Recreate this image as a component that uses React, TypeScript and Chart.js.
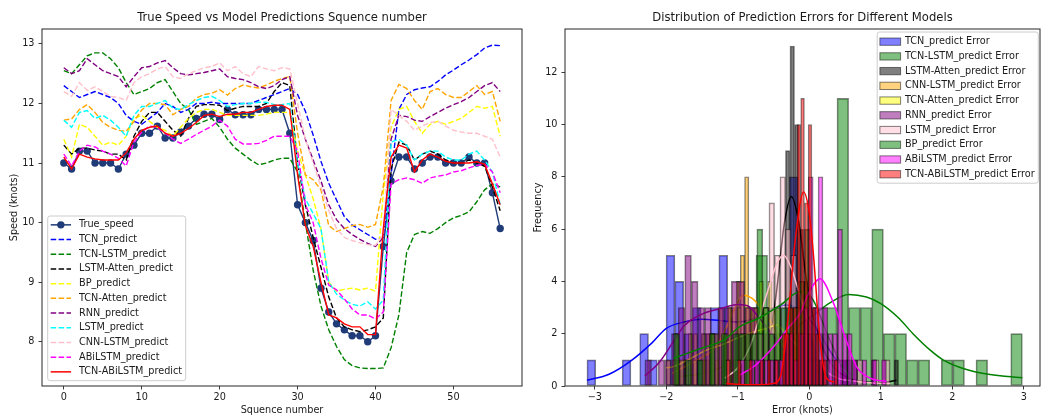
import React, { useEffect, useRef } from "react";
import { Chart, registerables } from "chart.js";

Chart.register(...registerables);

const FONT_FAMILY = "'DejaVu Sans', 'Liberation Sans', sans-serif";
const TEXT = "#1a1a1a";
const AXIS = "#262626";

// ---------------- Left panel: speed series ----------------
const sequenceNumbers = [0, 1, 2, 3, 4, 5, 6, 7, 8, 9, 10, 11, 12, 13, 14, 15, 16, 17, 18, 19, 20, 21, 22, 23, 24, 25, 26, 27, 28, 29, 30, 31, 32, 33, 34, 35, 36, 37, 38, 39, 40, 41, 42, 43, 44, 45, 46, 47, 48, 49, 50, 51, 52, 53, 54, 55, 56];
const sequenceTicks = [0, 10, 20, 30, 40, 50];
const speedTicks = [8, 9, 10, 11, 12, 13];

const trueSpeed = [11.0, 10.9, 11.2, 11.2, 11.0, 11.0, 11.0, 10.9, 11.15, 11.3, 11.5, 11.5, 11.62, 11.42, 11.42, 11.52, 11.62, 11.75, 11.82, 11.82, 11.73, 11.9, 11.81, 11.81, 11.81, 11.9, 11.9, 11.9, 11.9, 11.5, 10.3, 10.0, 9.7, 8.9, 8.5, 8.3, 8.2, 8.1, 8.1, 8.0, 8.1, 9.6, 10.7, 11.1, 11.1, 10.9, 11.0, 11.1, 11.1, 11.0, 11.0, 11.0, 11.1, 11.0, 11.0, 10.5, 9.9];
const tcnPredict = [12.3, 12.2, 12.1, 12.15, 12.2, 12.15, 12.1, 12.0, 11.8, 11.7, 11.65, 11.75, 11.85, 12.0, 11.95, 11.85, 11.9, 12.0, 12.0, 12.02, 12.0, 12.0, 12.0, 12.0, 12.0, 12.05, 12.1, 12.15, 12.2, 12.25, 12.15, 11.87, 11.47, 11.03, 10.66, 10.38, 10.1, 9.96, 9.88, 9.8, 9.72, 9.75, 10.8, 11.9, 12.15, 12.23, 12.26, 12.28, 12.37, 12.48, 12.56, 12.65, 12.73, 12.82, 12.93, 12.98, 12.97];
const tcnLstmPredict = [12.55, 12.5, 12.65, 12.8, 12.85, 12.85, 12.75, 12.6, 12.35, 12.15, 12.2, 12.25, 12.35, 12.4, 12.2, 12.0, 11.9, 11.65, 11.7, 11.75, 11.6, 11.4, 11.25, 11.15, 11.05, 10.97, 11.0, 11.05, 11.08, 11.08, 10.85, 10.0, 9.2, 8.6, 8.2, 7.92, 7.7, 7.6, 7.56, 7.55, 7.55, 7.56, 7.9, 8.45, 9.5, 9.8, 9.85, 9.82, 9.9, 10.0, 10.08, 10.12, 10.18, 10.35, 10.55, 10.65, 10.6];
const lstmAttenPredict = [11.3, 11.15, 11.25, 11.25, 11.22, 11.2, 11.15, 11.15, 11.05, 11.45, 11.7, 11.85, 11.85, 11.7, 11.55, 11.45, 11.75, 11.95, 11.98, 11.98, 11.97, 11.88, 11.92, 11.95, 11.95, 11.95, 12.0, 12.2, 12.35, 12.3, 11.0, 10.3, 9.75, 9.25, 8.75, 8.4, 8.25, 8.2, 8.17, 8.2, 8.25, 8.4, 10.9, 11.35, 11.3, 11.05, 11.15, 11.2, 11.15, 11.05, 11.0, 11.0, 11.05, 11.0, 10.95, 10.6, 10.2];
const bpPredict = [11.4, 11.1, 11.65, 11.6, 11.45, 11.3, 11.35, 11.3, 11.45, 11.75, 11.8, 11.7, 11.6, 11.55, 11.45, 11.6, 11.75, 11.85, 11.9, 11.9, 11.85, 11.8, 11.8, 11.8, 11.8, 11.8, 11.82, 11.85, 11.85, 11.85, 11.2, 10.8, 10.4, 9.9, 9.0, 8.85, 8.88, 8.9, 8.87, 8.9, 8.85, 10.5, 11.6, 11.9, 11.95, 11.7, 11.5, 11.65, 11.7, 11.65, 11.7, 11.75, 11.85, 11.95, 11.92, 11.95, 11.45];
const tcnAttenPredict = [11.72, 11.74, 11.9, 11.98, 11.85, 11.68, 11.6, 11.55, 11.53, 11.7, 11.89, 12.0, 12.0, 11.98, 11.81, 11.9, 11.95, 12.09, 12.15, 12.17, 12.23, 12.14, 12.25, 12.31, 12.28, 12.26, 12.31, 12.37, 12.42, 12.45, 11.5, 10.8, 10.72, 10.55, 9.95, 9.85, 9.9, 9.95, 9.97, 9.92, 9.97, 10.6, 12.05, 12.32, 12.25, 12.05, 11.9, 12.2, 12.25, 12.15, 12.1, 12.1, 12.2, 12.3, 12.15, 12.2, 11.7];
const rnnPredict = [12.6, 12.5, 12.55, 12.75, 12.65, 12.55, 12.5, 12.45, 12.28, 12.45, 12.6, 12.62, 12.68, 12.72, 12.6, 12.5, 12.48, 12.5, 12.52, 12.55, 12.58, 12.45, 12.42, 12.4, 12.35, 12.28, 12.25, 12.3, 12.4, 12.45, 11.8, 11.4, 11.05, 10.7, 10.3, 10.05, 9.9, 9.8, 9.72, 9.65, 9.6, 9.75, 11.4, 11.8, 11.78, 11.72, 11.7, 11.78, 11.85, 11.92, 11.98, 12.03, 12.1, 12.2, 12.3, 12.35, 12.2];
const lstmPredict = [11.72, 11.6, 11.85, 11.88, 11.75, 11.8, 11.72, 11.6, 11.45, 11.8, 11.95, 11.95, 12.0, 12.05, 11.92, 11.9, 11.98, 12.05, 12.1, 12.12, 12.05, 11.95, 11.98, 12.0, 12.0, 12.02, 12.02, 11.98, 11.98, 12.0, 11.0, 10.4, 10.15, 9.9, 9.0, 8.8, 8.7, 8.63, 8.6, 8.67, 8.55, 8.7, 11.35, 11.4, 11.3, 11.05, 11.15, 11.2, 11.2, 11.1, 11.05, 11.05, 11.15, 11.2, 11.05, 10.85, 10.3];
const cnnLstmPredict = [12.2, 12.12, 12.35, 12.22, 12.28, 12.2, 12.12, 12.1, 12.05, 12.35, 12.45, 12.5, 12.58, 12.62, 12.45, 12.42, 12.5, 12.55, 12.6, 12.62, 12.68, 12.55, 12.62, 12.5, 12.45, 12.62, 12.58, 12.55, 12.6, 12.58, 12.0, 11.4, 11.0, 10.6, 10.2, 9.9, 9.75, 9.7, 9.66, 9.63, 9.62, 9.8, 11.9, 11.8, 11.7, 11.55, 11.62, 11.68, 11.7, 11.62, 11.55, 11.52, 11.5, 11.5, 11.45, 11.4, 11.1];
const abilstmPredict = [11.15, 10.95, 11.2, 11.3, 11.27, 11.2, 11.15, 11.08, 10.95, 11.35, 11.52, 11.62, 11.6, 11.5, 11.4, 11.33, 11.4, 11.48, 11.55, 11.62, 11.72, 11.62, 11.4, 11.32, 11.32, 11.33, 11.38, 11.45, 11.45, 11.45, 11.2, 10.3, 10.0, 9.4, 8.95, 8.87, 8.72, 8.55, 8.45, 8.45, 8.38, 8.5, 10.65, 10.72, 10.75, 10.72, 10.66, 10.75, 10.78, 10.8, 10.85, 10.87, 10.92, 10.96, 10.98, 10.85, 10.5];
const tcnAbilstmPredict = [11.1, 10.9, 11.15, 11.1, 11.07, 11.05, 11.05, 11.05, 11.17, 11.4, 11.55, 11.6, 11.62, 11.5, 11.45, 11.5, 11.58, 11.68, 11.8, 11.82, 11.78, 11.82, 11.82, 11.85, 11.85, 11.9, 11.95, 11.97, 11.97, 11.9, 10.8, 9.95, 9.6, 9.0, 8.45, 8.4, 8.3, 8.25, 8.25, 8.12, 8.12, 9.9, 11.1, 11.3, 11.25, 10.85, 11.05, 11.15, 11.1, 11.03, 11.0, 11.0, 11.0, 11.02, 10.98, 10.65, 10.3];

// ---------------- Right panel: error histograms (30 bins each) ----------------
const errorTicks = [-3, -2, -1, 0, 1, 2, 3];
const frequencyTicks = [0, 2, 4, 6, 8, 10, 12];

const tcnErrStart = -3.11;
const tcnErrWidth = 0.123;
const tcnErrCounts = [1, 0, 0, 0, 1, 0, 2, 1, 0, 5, 4, 2, 3, 2, 3, 5, 2, 2, 2, 2, 3, 2, 3, 8, 2, 1, 1, 0, 0, 1];
const tcnKdeX = [-3.11, -2.8, -2.5, -2.2, -2.0, -1.75, -1.5, -1.25, -1.0, -0.8, -0.55, -0.32, -0.1, 0.1, 0.3, 0.45, 0.58];
const tcnKdeY = [0.22, 0.45, 0.95, 1.65, 2.2, 2.45, 2.55, 2.5, 2.45, 2.55, 2.9, 3.1, 2.85, 2.2, 1.3, 0.75, 0.42];

const tcnLstmErrStart = -1.88;
const tcnLstmErrWidth = 0.162;
const tcnLstmErrCounts = [1, 0, 1, 0, 1, 1, 1, 5, 1, 2, 2, 2, 3, 3, 11, 3, 3, 6, 2, 2, 1, 1, 0, 1, 1, 0, 1, 0, 0, 2];
const tcnLstmKdeX = [-1.88, -1.48, -1.2, -0.97, -0.6, -0.32, 0.0, 0.3, 0.55, 0.8, 1.0, 1.25, 1.45, 1.7, 1.87, 2.1, 2.4, 2.7, 2.98];
const tcnLstmKdeY = [0.35, 0.48, 0.75, 1.1, 1.6, 2.0, 2.6, 3.2, 3.5, 3.4, 3.15, 2.6, 2.0, 1.35, 1.0, 0.72, 0.5, 0.38, 0.32];

const lstmAttenErrStart = -0.65;
const lstmAttenErrWidth = 0.0633;
const lstmAttenErrCounts = [1, 0, 1, 2, 2, 9, 13, 10, 6, 4, 2, 1, 1, 0, 0, 1, 0, 0, 1, 0, 1, 0, 0, 0, 1, 0, 0, 0, 0, 1];
const lstmAttenKdeX = [-0.64, -0.55, -0.45, -0.35, -0.25, -0.15, -0.04, 0.05, 0.15, 0.25, 0.38, 0.55, 0.8, 1.0, 1.22];
const lstmAttenKdeY = [0.93, 1.8, 3.8, 6.2, 7.25, 6.3, 4.05, 2.7, 1.76, 1.1, 0.61, 0.3, 0.15, 0.12, 0.22];

const cnnLstmErrStart = -1.92;
const cnnLstmErrWidth = 0.0597;
const cnnLstmErrCounts = [1, 1, 0, 1, 0, 2, 0, 1, 2, 2, 1, 3, 2, 3, 3, 4, 5, 8, 3, 3, 2, 2, 2, 1, 1, 1, 0, 1, 0, 1];
const cnnLstmKdeX = [-1.92, -1.7, -1.5, -1.3, -1.15, -1.0, -0.92, -0.8, -0.65, -0.5, -0.32, -0.22, -0.13];
const cnnLstmKdeY = [0.48, 0.8, 1.1, 1.5, 2.3, 3.2, 3.47, 3.35, 2.9, 2.27, 1.25, 0.7, 0.3];

const tcnAttenErrStart = -2.0;
const tcnAttenErrWidth = 0.0617;
const tcnAttenErrCounts = [1, 0, 2, 1, 0, 2, 1, 0, 2, 0, 2, 2, 0, 2, 3, 0, 3, 2, 3, 3, 3, 4, 3, 4, 3, 3, 2, 2, 1, 2];
const tcnAttenKdeX = [-2.0, -1.9, -1.7, -1.43, -1.2, -0.97, -0.8, -0.6, -0.46, -0.32, -0.18];
const tcnAttenKdeY = [0.7, 0.74, 1.0, 1.38, 1.6, 1.88, 2.05, 2.2, 2.33, 2.0, 1.57];

const rnnErrStart = -2.3;
const rnnErrWidth = 0.093;
const rnnErrCounts = [1, 0, 1, 1, 2, 3, 5, 4, 3, 3, 2, 3, 3, 4, 4, 3, 3, 2, 2, 1, 1, 1, 1, 0, 1, 0, 0, 0, 0, 1];
const rnnKdeX = [-2.3, -2.1, -1.9, -1.75, -1.5, -1.25, -1.0, -0.85, -0.7, -0.5, -0.32, -0.1, 0.15, 0.3, 0.49];
const rnnKdeY = [0.38, 0.9, 1.7, 2.3, 2.75, 2.95, 3.12, 3.05, 2.6, 1.9, 1.25, 0.6, 0.36, 0.3, 0.3];

const lstmErrStart = -1.18;
const lstmErrWidth = 0.077;
const lstmErrCounts = [1, 0, 1, 1, 1, 2, 2, 3, 7, 5, 8, 6, 5, 3, 2, 2, 1, 1, 1, 1, 1, 0, 0, 0, 1, 0, 0, 1, 0, 1];
const lstmKdeX = [-1.18, -1.0, -0.83, -0.7, -0.55, -0.45, -0.36, -0.25, -0.18, 0.01, 0.2, 0.4, 0.6, 0.85, 1.13];
const lstmKdeY = [0.3, 0.7, 1.5, 2.6, 3.9, 4.7, 5.0, 4.5, 3.9, 2.27, 0.74, 0.3, 0.2, 0.12, 0.1];

const bpErrStart = -1.9;
const bpErrWidth = 0.0833;
const bpErrCounts = [2, 0, 1, 0, 1, 0, 2, 0, 2, 0, 2, 2, 2, 2, 6, 3, 2, 3, 3, 3, 3, 4, 6, 3, 2, 2, 0, 0, 0, 1];
const bpKdeX = [-1.9, -1.5, -1.2, -0.97, -0.7, -0.4, -0.13, 0.05, 0.25, 0.45, 0.6];
const bpKdeY = [1.06, 1.45, 1.75, 2.27, 2.6, 3.1, 3.6, 3.3, 2.0, 0.8, 0.25];

const abilstmErrStart = -0.97;
const abilstmErrWidth = 0.0683;
const abilstmErrCounts = [1, 0, 1, 1, 1, 1, 1, 1, 1, 2, 2, 1, 2, 3, 8, 3, 8, 3, 2, 2, 6, 2, 2, 1, 0, 1, 0, 1, 0, 1];
const abilstmKdeX = [-0.97, -0.75, -0.5, -0.3, -0.13, 0.0, 0.15, 0.34, 0.5, 0.66, 0.85, 1.08];
const abilstmKdeY = [0.42, 0.8, 1.5, 2.2, 2.78, 3.6, 4.1, 3.16, 1.88, 0.74, 0.3, 0.17];

const tcnAbilstmErrStart = -1.16;
const tcnAbilstmErrWidth = 0.052;
const tcnAbilstmErrCounts = [1, 0, 0, 1, 0, 0, 1, 0, 0, 1, 0, 1, 0, 1, 0, 2, 2, 3, 3, 10, 11, 7, 10, 3, 2, 1, 1, 0, 0, 1];
const tcnAbilstmKdeX = [-1.16, -0.9, -0.7, -0.5, -0.4, -0.3, -0.2, -0.08, 0.0, 0.06, 0.15, 0.24, 0.35];
const tcnAbilstmKdeY = [0.1, 0.05, 0.05, 0.1, 0.4, 2.5, 5.5, 7.42, 6.6, 4.95, 1.76, 0.3, 0.15];

// ---------------- styling tables built from the arrays ----------------
const speedSeries = [
  { label: "True_speed", data: trueSpeed, color: "#1f3b78", dash: false, marker: true },
  { label: "TCN_predict", data: tcnPredict, color: "#0000ff", dash: true },
  { label: "TCN-LSTM_predict", data: tcnLstmPredict, color: "#008000", dash: true },
  { label: "LSTM-Atten_predict", data: lstmAttenPredict, color: "#000000", dash: true },
  { label: "BP_predict", data: bpPredict, color: "#ffff00", dash: true },
  { label: "TCN-Atten_predict", data: tcnAttenPredict, color: "#ffa500", dash: true },
  { label: "RNN_predict", data: rnnPredict, color: "#800080", dash: true },
  { label: "LSTM_predict", data: lstmPredict, color: "#00ffff", dash: true },
  { label: "CNN-LSTM_predict", data: cnnLstmPredict, color: "#ffc0cb", dash: true },
  { label: "ABiLSTM_predict", data: abilstmPredict, color: "#ff00ff", dash: true },
  { label: "TCN-ABiLSTM_predict", data: tcnAbilstmPredict, color: "#ff0000", dash: false },
];

const errorSeries = [
  { label: "TCN_predict Error", rgb: [0, 0, 255], start: tcnErrStart, width: tcnErrWidth, counts: tcnErrCounts, kx: tcnKdeX, ky: tcnKdeY },
  { label: "TCN-LSTM_predict Error", rgb: [0, 128, 0], start: tcnLstmErrStart, width: tcnLstmErrWidth, counts: tcnLstmErrCounts, kx: tcnLstmKdeX, ky: tcnLstmKdeY },
  { label: "LSTM-Atten_predict Error", rgb: [0, 0, 0], start: lstmAttenErrStart, width: lstmAttenErrWidth, counts: lstmAttenErrCounts, kx: lstmAttenKdeX, ky: lstmAttenKdeY },
  { label: "CNN-LSTM_predict Error", rgb: [255, 165, 0], start: cnnLstmErrStart, width: cnnLstmErrWidth, counts: cnnLstmErrCounts, kx: cnnLstmKdeX, ky: cnnLstmKdeY },
  { label: "TCN-Atten_predict Error", rgb: [255, 255, 0], start: tcnAttenErrStart, width: tcnAttenErrWidth, counts: tcnAttenErrCounts, kx: tcnAttenKdeX, ky: tcnAttenKdeY },
  { label: "RNN_predict Error", rgb: [128, 0, 128], start: rnnErrStart, width: rnnErrWidth, counts: rnnErrCounts, kx: rnnKdeX, ky: rnnKdeY },
  { label: "LSTM_predict Error", rgb: [255, 192, 203], start: lstmErrStart, width: lstmErrWidth, counts: lstmErrCounts, kx: lstmKdeX, ky: lstmKdeY },
  { label: "BP_predict Error", rgb: [0, 128, 0], start: bpErrStart, width: bpErrWidth, counts: bpErrCounts, kx: bpKdeX, ky: bpKdeY },
  { label: "ABiLSTM_predict Error", rgb: [255, 0, 255], start: abilstmErrStart, width: abilstmErrWidth, counts: abilstmErrCounts, kx: abilstmKdeX, ky: abilstmKdeY },
  { label: "TCN-ABiLSTM_predict Error", rgb: [255, 0, 0], start: tcnAbilstmErrStart, width: tcnAbilstmErrWidth, counts: tcnAbilstmErrCounts, kx: tcnAbilstmKdeX, ky: tcnAbilstmKdeY },
];

const rgba = (c: number[], a: number) => `rgba(${c[0]},${c[1]},${c[2]},${a})`;
const fmtTick = (v: any) => (Number(v) < 0 ? "\u2212" + Math.abs(Number(v)) : String(v));

// ---------------- plugins ----------------
const framePlugin = {
  id: "axesFrame",
  afterDatasetsDraw(chart: any) {
    const { ctx, chartArea: a } = chart;
    ctx.save();
    ctx.strokeStyle = AXIS;
    ctx.lineWidth = 1;
    ctx.strokeRect(a.left, a.top, a.right - a.left, a.bottom - a.top);
    ctx.restore();
  },
};

const boxLegendPlugin = {
  id: "boxLegend",
  afterDraw(chart: any, _args: any, o: any) {
    if (!o || !o.items) return;
    const { ctx, chartArea: a } = chart;
    ctx.save();
    ctx.font = `${o.fontSize}px ${FONT_FAMILY}`;
    let maxW = 0;
    for (const it of o.items) maxW = Math.max(maxW, ctx.measureText(it.label).width);
    const w = o.textX + maxW + o.padRight;
    const h = o.items.length * o.rowH + o.padTop + o.padBottom;
    const x0 = o.corner === "lowerLeft" ? a.left + o.offX : a.right - o.offX - w;
    const y0 = o.corner === "lowerLeft" ? a.bottom - o.offY - h : a.top + o.offY;
    ctx.beginPath();
    if (ctx.roundRect) ctx.roundRect(x0, y0, w, h, 2.5);
    else ctx.rect(x0, y0, w, h);
    ctx.fillStyle = "rgba(255,255,255,0.8)";
    ctx.fill();
    ctx.strokeStyle = "#cccccc";
    ctx.lineWidth = 1;
    ctx.stroke();
    o.items.forEach((it: any, i: number) => {
      const cy = y0 + o.padTop + o.rowH * (i + 0.5);
      const hx = x0 + o.handleX;
      if (it.patch) {
        ctx.fillStyle = it.fill;
        ctx.fillRect(hx, cy - o.patchH / 2, o.handleW, o.patchH);
        ctx.strokeStyle = it.edge;
        ctx.lineWidth = 1;
        ctx.strokeRect(hx, cy - o.patchH / 2, o.handleW, o.patchH);
      } else {
        ctx.beginPath();
        ctx.setLineDash(it.dash ? [5.5, 2.4] : []);
        ctx.strokeStyle = it.color;
        ctx.lineWidth = 1.5;
        ctx.moveTo(hx, cy);
        ctx.lineTo(hx + o.handleW, cy);
        ctx.stroke();
        ctx.setLineDash([]);
        if (it.marker) {
          ctx.beginPath();
          ctx.arc(hx + o.handleW / 2, cy, 3.7, 0, Math.PI * 2);
          ctx.fillStyle = it.color;
          ctx.fill();
        }
      }
      ctx.fillStyle = TEXT;
      ctx.textBaseline = "middle";
      ctx.textAlign = "left";
      ctx.fillText(it.label, x0 + o.textX, cy);
    });
    ctx.restore();
  },
};

const tickFont = { family: FONT_FAMILY, size: 9.7 };
const axisGrid = {
  display: true,
  drawOnChartArea: false,
  drawTicks: true,
  tickLength: 3.5,
  tickWidth: 0.9,
  tickColor: AXIS,
  offset: false,
};

function makeLeftConfig(): any {
  const n = speedSeries.length;
  return {
    type: "line",
    data: {
      labels: sequenceNumbers,
      datasets: speedSeries.map((s, i) => ({
        label: s.label,
        data: s.data,
        borderColor: s.color,
        backgroundColor: s.color,
        borderWidth: 1.4,
        borderDash: s.dash ? [5.5, 2.4] : [],
        pointRadius: s.marker ? 3.7 : 0,
        pointBorderWidth: 0,
        pointBackgroundColor: s.color,
        tension: 0,
        fill: false,
        order: n - i,
      })),
    },
    options: {
      animation: false,
      responsive: false,
      devicePixelRatio: 1,
      layout: { padding: { left: 0, right: 8, top: 0, bottom: 0 } },
      plugins: {
        legend: { display: false },
        tooltip: { enabled: false },
        title: {
          display: true,
          fullSize: false,
          text: "True Speed vs Model Predictions Squence number",
          color: TEXT,
          font: { family: FONT_FAMILY, size: 11.6, weight: "normal", lineHeight: 1.2 },
          padding: { top: 10.6, bottom: 4.48 },
        },
        boxLegend: {
          corner: "lowerLeft",
          offX: 5.7,
          offY: 5.3,
          fontSize: 9.7,
          rowH: 14.7,
          padTop: 1.5,
          padBottom: 1.5,
          handleX: 3,
          handleW: 20.3,
          textX: 31.3,
          padRight: 3.6,
          items: speedSeries.map((s) => ({ label: s.label, color: s.color, dash: s.dash, marker: !!s.marker })),
        },
      },
      scales: {
        x: {
          type: "linear",
          min: -2.8,
          max: 58.8,
          offset: false,
          afterBuildTicks: (s: any) => { s.ticks = sequenceTicks.map((v) => ({ value: v })); },
          afterFit: (s: any) => { s.height = 33; },
          grid: axisGrid,
          border: { display: false },
          ticks: { font: tickFont, color: TEXT, padding: 2, maxRotation: 0, callback: fmtTick },
          title: { display: true, text: "Squence number", color: TEXT, font: { family: FONT_FAMILY, size: 9.7, lineHeight: 1.2 }, padding: { top: 0, bottom: 3 } },
        },
        y: {
          type: "linear",
          min: 7.257,
          max: 13.25,
          afterBuildTicks: (s: any) => { s.ticks = speedTicks.map((v) => ({ value: v })); },
          afterFit: (s: any) => { s.width = 42; },
          grid: axisGrid,
          border: { display: false },
          ticks: { font: tickFont, color: TEXT, padding: 4, callback: fmtTick },
          title: { display: true, text: "Speed (knots)", color: TEXT, font: { family: FONT_FAMILY, size: 9.7, lineHeight: 1.2 }, padding: { top: 8.2, bottom: 0 } },
        },
      },
    },
    plugins: [framePlugin, boxLegendPlugin],
  };
}

const ERR_MIN = -3.417;
const ERR_MAX = 3.227;

function makeRightConfig(): any {
  const datasets: any[] = [];
  const total = errorSeries.length * 2;
  const scales: any = {
    x: {
      type: "linear",
      min: ERR_MIN,
      max: ERR_MAX,
      offset: false,
      afterBuildTicks: (s: any) => { s.ticks = errorTicks.map((v) => ({ value: v })); },
      afterFit: (s: any) => { s.height = 33; },
      grid: axisGrid,
      border: { display: false },
      ticks: { font: tickFont, color: TEXT, padding: 2, maxRotation: 0, callback: fmtTick },
      title: { display: true, text: "Error (knots)", color: TEXT, font: { family: FONT_FAMILY, size: 9.7, lineHeight: 1.2 }, padding: { top: 0, bottom: 3 } },
    },
    y: {
      type: "linear",
      min: 0,
      max: 13.65,
      afterBuildTicks: (s: any) => { s.ticks = frequencyTicks.map((v) => ({ value: v })); },
      afterFit: (s: any) => { s.width = 35; },
      grid: axisGrid,
      border: { display: false },
      ticks: { font: tickFont, color: TEXT, padding: 4, callback: fmtTick },
      title: { display: true, text: "Frequency", color: TEXT, font: { family: FONT_FAMILY, size: 9.7, lineHeight: 1.2 }, padding: { top: 2.5, bottom: 0 } },
    },
  };
  errorSeries.forEach((s, i) => {
    const axisId = "h" + i;
    scales[axisId] = {
      type: "linear",
      position: "bottom",
      display: false,
      min: ERR_MIN,
      max: ERR_MAX,
      offset: false,
      grid: { offset: false },
      ticks: { stepSize: 1 },
    };
    datasets.push({
      type: "bar",
      label: s.label,
      xAxisID: axisId,
      yAxisID: "y",
      data: s.counts.map((c, k) => ({ x: s.start + (k + 0.5) * s.width, y: c > 0 ? c : null })),
      backgroundColor: rgba(s.rgb, 0.5),
      borderColor: "rgba(0,0,0,0.5)",
      borderWidth: 1,
      borderSkipped: false,
      grouped: false,
      categoryPercentage: 1,
      barPercentage: 1,
      order: total - 2 * i,
    });
    datasets.push({
      type: "line",
      label: s.label + " kde",
      xAxisID: "x",
      yAxisID: "y",
      data: s.kx.map((x, j) => ({ x, y: s.ky[j] })),
      borderColor: rgba(s.rgb, 1),
      backgroundColor: rgba(s.rgb, 1),
      borderWidth: 1.5,
      pointRadius: 0,
      cubicInterpolationMode: "monotone",
      fill: false,
      order: total - 2 * i - 1,
    });
  });
  return {
    type: "bar",
    data: { datasets },
    options: {
      animation: false,
      responsive: false,
      devicePixelRatio: 1,
      layout: { padding: { left: 0, right: 1, top: 0, bottom: 0 } },
      plugins: {
        legend: { display: false },
        tooltip: { enabled: false },
        title: {
          display: true,
          fullSize: false,
          text: "Distribution of Prediction Errors for Different Models",
          color: TEXT,
          font: { family: FONT_FAMILY, size: 11.6, weight: "normal", lineHeight: 1.2 },
          padding: { top: 10.6, bottom: 4.48 },
        },
        boxLegend: {
          corner: "upperRight",
          offX: 1.7,
          offY: 3,
          fontSize: 9.7,
          rowH: 14.73,
          padTop: 2.3,
          padBottom: 1.6,
          handleX: 2.7,
          handleW: 20.7,
          patchH: 7.3,
          textX: 27.7,
          padRight: 3.6,
          items: errorSeries.map((s) => ({ label: s.label, patch: true, fill: rgba(s.rgb, 0.5), edge: "rgba(0,0,0,0.5)" })),
        },
      },
      scales,
    },
    plugins: [framePlugin, boxLegendPlugin],
  };
}

function ChartCanvas({ make, left, width, height }: { make: () => any; left: number; width: number; height: number }) {
  const ref = useRef<HTMLCanvasElement | null>(null);
  useEffect(() => {
    if (!ref.current) return;
    const chart = new Chart(ref.current, make());
    return () => chart.destroy();
  }, [make]);
  return (
    <canvas
      ref={ref}
      width={width}
      height={height}
      style={{ position: "absolute", left, top: 0, width, height, display: "block" }}
    />
  );
}

export default function App() {
  return (
    <div style={{ position: "fixed", left: 0, top: 0, width: 1041, height: 419, background: "#ffffff", overflow: "hidden" }}>
      <ChartCanvas make={makeLeftConfig} left={0} width={530} height={419} />
      <ChartCanvas make={makeRightConfig} left={530} width={511} height={419} />
    </div>
  );
}
